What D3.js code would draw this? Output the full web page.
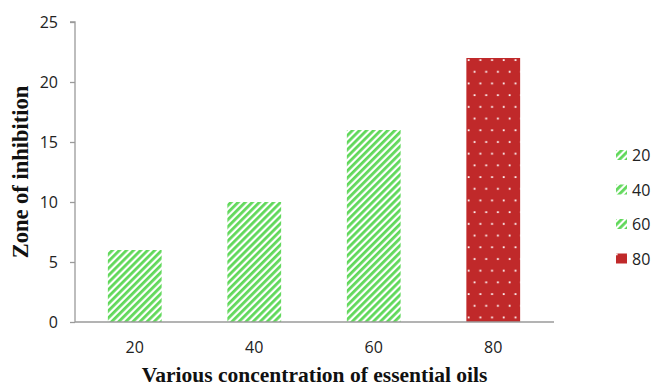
<!DOCTYPE html>
<html>
<head>
<meta charset="utf-8">
<script src="https://cdn.jsdelivr.net/npm/d3@7"></script>
<style>
  html, body { margin: 0; padding: 0; background: #fff; }
  svg { display: block; }
</style>
</head>
<body>
<svg id="chart" width="654" height="386"></svg>
<script>
// Concentration groups and measured zone of inhibition
const categories = ["20", "40", "60", "80"];
const values = [6, 10, 16, 22];
const yTicks = [0, 5, 10, 15, 20, 25];
const legendLabels = ["20", "40", "60", "80"];
const fills = ["stripe", "stripe", "stripe", "dots"];

const svg = d3.select("#chart");
const margin = { left: 75, right: 101, top: 22, bottom: 64 };
const W = 654, H = 386;
const tickFont = "'Open Sans', 'Liberation Sans', sans-serif";
const titleFont = "'Liberation Serif', 'Times New Roman', serif";

const x = d3.scaleBand().domain(categories)
  .range([margin.left, W - margin.right]).paddingInner(0.55).paddingOuter(0.275);
const y = d3.scaleLinear().domain([0, 25]).range([H - margin.bottom, margin.top]);

// Fill patterns: green diagonal hatching and red with white dots
const defs = svg.append("defs");
const stripe = defs.append("pattern").attr("id", "stripe")
  .attr("patternUnits", "userSpaceOnUse").attr("width", 5).attr("height", 5)
  .attr("patternTransform", "rotate(45)");
stripe.append("rect").attr("width", 5).attr("height", 5).attr("fill", "#ffffff");
stripe.append("rect").attr("width", 2.8).attr("height", 5).attr("fill", "#60d85a");

const dots = defs.append("pattern").attr("id", "dots")
  .attr("patternUnits", "userSpaceOnUse").attr("width", 11.7).attr("height", 23.4)
  .attr("x", 467).attr("y", 20);
dots.append("rect").attr("width", 11.7).attr("height", 23.4).attr("fill", "#c0292a");
[[7.5, 5], [1.65, 16.7], [13.35, 16.7]].forEach(([cx, cy]) => {
  dots.append("rect").attr("x", cx - 0.9).attr("y", cy - 0.9)
    .attr("width", 1.8).attr("height", 1.8).attr("fill", "#ffffff");
});

// Bars
svg.append("g").selectAll("rect").data(categories).join("rect")
  .attr("x", d => x(d))
  .attr("width", x.bandwidth())
  .attr("y", (d, i) => y(values[i]))
  .attr("height", (d, i) => y(0) - y(values[i]))
  .attr("fill", (d, i) => `url(#${fills[i]})`);

// Y axis
const yAxis = svg.append("g").attr("transform", `translate(${margin.left},0)`)
  .call(d3.axisLeft(y).tickValues(yTicks).tickSize(5).tickPadding(12).tickFormat(d3.format("d")));
yAxis.select(".domain").attr("stroke", "#9a9a9a").attr("stroke-width", 1.3)
  .attr("d", `M-5,${y(25)}H0V${y(0)}`);
yAxis.selectAll(".tick line").attr("stroke", "#9a9a9a").attr("stroke-width", 1.3);
yAxis.selectAll(".tick text")
  .attr("font-family", tickFont).attr("dy", "0.36em")
  .attr("font-size", 16).attr("fill", "#222");

// X axis
const xAxis = svg.append("g").attr("transform", `translate(0,${y(0)})`)
  .call(d3.axisBottom(x).tickSize(0));
xAxis.select(".domain").attr("stroke", "#9a9a9a").attr("stroke-width", 1.3)
  .attr("d", `M${margin.left},0H${W - margin.right + 1}`);
xAxis.selectAll(".tick text")
  .attr("y", 31).attr("dy", 0)
  .attr("font-family", tickFont)
  .attr("font-size", 16).attr("fill", "#222");

// Axis titles
svg.append("text")
  .attr("transform", `translate(28,${(y(0) + y(25)) / 2}) rotate(-90)`)
  .attr("text-anchor", "middle")
  .attr("font-family", titleFont)
  .attr("font-weight", "bold").attr("font-size", 22.5).attr("fill", "#111")
  .text("Zone of inhibition");

svg.append("text")
  .attr("x", 314.5).attr("y", 382)
  .attr("text-anchor", "middle")
  .attr("font-family", titleFont)
  .attr("font-weight", "bold").attr("font-size", 21.5).attr("fill", "#111")
  .text("Various concentration of essential oils");

// Legend
const legend = svg.append("g").selectAll("g").data(legendLabels).join("g")
  .attr("transform", (d, i) => `translate(616,${161 + i * 34.5})`);
legend.append("rect").attr("y", -11).attr("width", 11).attr("height", 10)
  .attr("fill", (d, i) => `url(#${fills[i]})`);
legend.append("text").attr("x", 16).attr("y", 0)
  .attr("font-family", tickFont)
  .attr("font-size", 16).attr("fill", "#222")
  .text(d => d);
</script>
</body>
</html>
